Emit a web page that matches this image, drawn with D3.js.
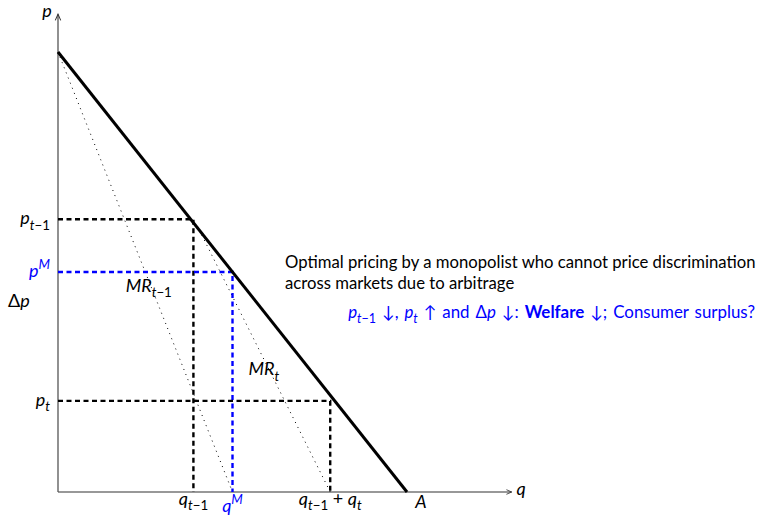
<!DOCTYPE html>
<html>
<head>
<meta charset="utf-8">
<script src="https://cdn.jsdelivr.net/npm/d3@7"></script>
<style>
  body { margin: 0; background: #fff; }
  svg text { font-family: Lato, 'DejaVu Sans', sans-serif; }
</style>
</head>
<body>
<div id="chart"></div>
<script>
'use strict';
// Chart values (q = quantity, p = price)
const demand = [[0, 10], [10, 0]]
const mrPrev = [[0, 10], [5, 0]]
const mrNow = [[4.05, 5.95], [7.8, 0]]
const guides = [
  { q: 3.88, p: 6.2, color: '#000' },
  { q: 5, p: 5, color: '#0000ff' },
  { q: 7.8, p: 2.07, color: '#000' }
]
// label segments: [text, kind]  kind: it | rm | sub | subit | sup | bf
const pLabels = [
  { p: 6.2, color: '#000', parts: [['p', 'it'], ['t', 'subit'], ['−1', 'sub']] },
  { p: 5, color: '#0000ff', parts: [['p', 'it'], ['M', 'sup']] },
  { p: 2.07, color: '#000', parts: [['p', 'it'], ['t', 'subit']] }
]
const qLabels = [
  { q: 3.88, color: '#000', parts: [['q', 'it'], ['t', 'subit'], ['−1', 'sub']] },
  { q: 5, color: '#0000ff', dy: 7, parts: [['q', 'it'], ['M', 'sup']] },
  { q: 7.8, color: '#000', parts: [['q', 'it'], ['t', 'subit'], ['−1', 'sub'], [' + ', 'rm'], ['q', 'it'], ['t', 'subit']] },
  { q: 10.4, color: '#000', dy: 3, parts: [['A', 'it']] }
]
const mrLabels = [
  { q: 2.6, p: 4.55, parts: [['MR', 'it'], ['t', 'subit'], ['−1', 'sub']] },
  { q: 5.9, p: 2.65, parts: [['MR', 'it'], ['t', 'subit']] }
]
const noteLines = [
  'Optimal pricing by a monopolist who cannot price discrimination',
  'across markets due to arbitrage'
]
const noteBlue = [
  ['p', 'it'], ['t', 'subit'], ['−1', 'sub'], [' ↓, ', 'rm'], ['p', 'it'], ['t', 'subit'],
  [' ↑ and Δ', 'rm'], ['p', 'it'], [' ↓:  ', 'rm'], ['Welfare', 'bf'],
  [' ↓; Consumer surplus?', 'rm']
]

const W = 760, H = 516
const x = d3.scaleLinear().domain([0, 10]).range([58, 407])
const y = d3.scaleLinear().domain([0, 10]).range([492, 52])
const qMax = 13.0, pMax = 10.86

const svg = d3.select('#chart').append('svg')
  .attr('width', W).attr('height', H)

svg.append('defs').append('marker')
  .attr('id', 'arrow')
  .attr('viewBox', '0 0 10 10')
  .attr('refX', 9).attr('refY', 5)
  .attr('markerWidth', 6).attr('markerHeight', 6)
  .attr('orient', 'auto')
  .append('path')
  .attr('d', 'M1,1.5 L9,5 L1,8.5')
  .attr('fill', 'none')
  .attr('stroke', '#333')
  .attr('stroke-width', 1.3)

const line = d3.line().x(d => x(d[0])).y(d => y(d[1]))

// Axes
svg.append('path').datum([[0, 0], [qMax, 0]])
  .attr('d', line).attr('stroke', '#333').attr('stroke-width', 1.1)
  .attr('fill', 'none').attr('marker-end', 'url(#arrow)')
svg.append('path').datum([[0, 0], [0, pMax]])
  .attr('d', line).attr('stroke', '#555').attr('stroke-width', 1.3)
  .attr('fill', 'none').attr('marker-end', 'url(#arrow)')

// Marginal revenue lines (dotted)
svg.selectAll('path.mr').data([mrPrev, mrNow]).join('path')
  .attr('class', 'mr')
  .attr('d', line)
  .attr('fill', 'none')
  .attr('stroke', '#000')
  .attr('stroke-width', 1)
  .attr('stroke-dasharray', '1,4.5')

// Dashed guides
guides.forEach(g => {
  svg.append('path').datum([[0, g.p], [g.q, g.p], [g.q, 0]])
    .attr('d', line)
    .attr('fill', 'none')
    .attr('stroke', g.color)
    .attr('stroke-width', 2.4)
    .attr('stroke-dasharray', '5,3.5')
})

// Demand
svg.append('path').datum(demand)
  .attr('d', line)
  .attr('fill', 'none')
  .attr('stroke', '#000')
  .attr('stroke-width', 3)

function addParts(text, parts, size) {
  let shift = 0
  parts.forEach(([t, kind]) => {
    const ts = text.append('tspan').text(t)
    let target = 0
    if (kind === 'sub' || kind === 'subit') target = size * 0.3
    if (kind === 'sup') target = -size * 0.42
    ts.attr('dy', target - shift)
    shift = target
    if (target !== 0) ts.attr('font-size', size * 0.74)
    if (kind === 'it' || kind === 'subit' || kind === 'sup') ts.attr('font-style', 'italic')
    if (kind === 'bf') ts.attr('font-weight', 'bold')
  })
}

// Axis names
svg.append('text').attr('x', 47).attr('y', 17).attr('text-anchor', 'middle')
  .attr('font-size', 18).attr('font-style', 'italic').text('p')
svg.append('text').attr('x', 521).attr('y', 495).attr('text-anchor', 'middle')
  .attr('font-size', 18).attr('font-style', 'italic').text('q')

// Price labels
pLabels.forEach(d => {
  const t = svg.append('text')
    .attr('x', 50).attr('y', y(d.p) + 5)
    .attr('text-anchor', 'end')
    .attr('font-size', 18)
    .attr('fill', d.color)
  addParts(t, d.parts, 18)
})
const dp = svg.append('text').attr('x', 8).attr('y', 307).attr('font-size', 18)
addParts(dp, [['Δ', 'rm'], ['p', 'it']], 18)

// Quantity labels
qLabels.forEach(d => {
  const t = svg.append('text')
    .attr('x', x(d.q)).attr('y', 505 + (d.dy || 0))
    .attr('text-anchor', 'middle')
    .attr('font-size', 18)
    .attr('fill', d.color)
  addParts(t, d.parts, 18)
})

// MR labels
mrLabels.forEach(d => {
  const t = svg.append('text')
    .attr('x', x(d.q)).attr('y', y(d.p))
    .attr('text-anchor', 'middle')
    .attr('font-size', 18)
  addParts(t, d.parts, 18)
})

// Note
noteLines.forEach((s, i) => {
  svg.append('text')
    .attr('x', 285).attr('y', 268 + i * 21)
    .attr('font-size', 16.7)
    .text(s)
})
const nb = svg.append('text')
  .attr('x', 755).attr('y', 318)
  .attr('text-anchor', 'end')
  .attr('font-size', 16.9)
  .attr('word-spacing', 1.6)
  .attr('fill', '#0000ff')
addParts(nb, noteBlue, 16.9)
</script>
</body>
</html>
